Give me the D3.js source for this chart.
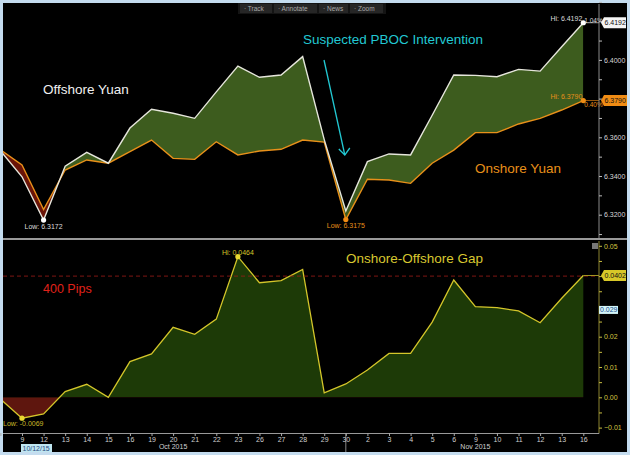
<!DOCTYPE html>
<html>
<head>
<meta charset="utf-8">
<script src="https://d3js.org/d3.v7.min.js"></script>
<style>
  body { margin: 0; background: #c4dcef; }
  text { font-family: "Liberation Sans", Arial, sans-serif; }
</style>
</head>
<body>
<div id="chart"></div>
<script>
// data
var dates = ["10/08","10/09","10/12","10/13","10/14","10/15","10/16","10/19","10/20","10/21","10/22","10/23","10/26","10/27","10/28","10/29","10/30","11/02","11/03","11/04","11/05","11/06","11/09","11/10","11/11","11/12","11/13","11/16"];
var dayLabels = ["","9","12","13","14","15","16","19","20","21","22","23","26","27","28","29","30","2","3","4","5","6","9","10","11","12","13","16"];
var offshore = [6.3531, 6.3396, 6.3172, 6.3451, 6.3522, 6.3466, 6.3648, 6.3745, 6.3724, 6.3698, 6.3835, 6.3968, 6.3910, 6.3922, 6.4017, 6.3588, 6.3219, 6.3474, 6.3514, 6.3509, 6.3714, 6.3922, 6.3920, 6.3913, 6.3951, 6.3942, 6.4068, 6.4192];
var onshore = [6.3536, 6.3457, 6.3227, 6.3431, 6.3483, 6.3466, 6.3526, 6.3586, 6.3491, 6.3486, 6.3577, 6.3509, 6.3529, 6.3538, 6.3586, 6.3575, 6.3175, 6.3383, 6.3379, 6.3362, 6.3466, 6.3534, 6.3624, 6.3624, 6.3669, 6.3698, 6.3741, 6.3790];
var gap = [-0.0006, -0.0069, -0.0055, 0.0019, 0.0043, 0.0000, 0.0118, 0.0143, 0.0231, 0.0208, 0.0258, 0.0464, 0.0378, 0.0385, 0.0422, 0.0015, 0.0044, 0.0090, 0.0145, 0.0145, 0.0248, 0.0387, 0.0299, 0.0296, 0.0285, 0.0246, 0.0327, 0.0402];
var topTicks = [6.32, 6.34, 6.36, 6.40];
var botTicks = [-0.01, 0.00, 0.01, 0.02, 0.05];
var pctLabels = ["1.04%", "0.40%"];
var pipsLevel = 0.04;
var months = [{name: "Oct 2015", from: "10/08", to: "10/30"}, {name: "Nov 2015", from: "11/02", to: "11/16"}];

var W = 630, H = 455;
var axisX = 599;
var topPanel = {y0: 4, y1: 238};
var botPanel = {y0: 241, y1: 433};

var svg = d3.select("#chart").append("svg")
    .attr("width", W).attr("height", H);

// frame + black background
svg.append("rect").attr("width", W).attr("height", H).attr("fill", "#c4dcef");
svg.append("rect").attr("x", 3).attr("y", 3).attr("width", 624).attr("height", 449).attr("fill", "#000");

var rows = dates.map(function(d, i) {
  return {date: d, off: offshore[i], on: onshore[i], gap: gap[i]};
});

var x = d3.scalePoint().domain(dates).range([0.4, 583.3]);
var yTop = d3.scaleLinear().domain([6.30, 6.43]).range([253.4, 1.85]);
var yBot = d3.scaleLinear().domain([-0.015, 0.055]).range([442.75, 230.65]);

var defs = svg.append("defs");
function clipRect(id, y0, y1) {
  defs.append("clipPath").attr("id", id).append("rect")
    .attr("x", 3).attr("y", y0).attr("width", axisX - 3).attr("height", y1 - y0);
}
clipRect("clipTop", topPanel.y0, topPanel.y1);
clipRect("clipBot", botPanel.y0, botPanel.y1);

// ---------- top panel ----------
var gTop = svg.append("g").attr("clip-path", "url(#clipTop)");

var belowOff = d3.area().x(function(d){ return x(d.date); }).y0(H).y1(function(d){ return yTop(d.off); });
var belowOn = d3.area().x(function(d){ return x(d.date); }).y0(H).y1(function(d){ return yTop(d.on); });
var aboveOn = d3.area().x(function(d){ return x(d.date); }).y0(0).y1(function(d){ return yTop(d.on); });
var aboveOff = d3.area().x(function(d){ return x(d.date); }).y0(0).y1(function(d){ return yTop(d.off); });

defs.append("clipPath").attr("id", "clipAboveOn").append("path").attr("d", aboveOn(rows));
defs.append("clipPath").attr("id", "clipAboveOff").append("path").attr("d", aboveOff(rows));

// green where offshore is higher, red where onshore is higher
gTop.append("g").attr("clip-path", "url(#clipAboveOn)")
  .append("path").attr("d", belowOff(rows)).attr("fill", "#3d5c1e");
gTop.append("g").attr("clip-path", "url(#clipAboveOff)")
  .append("path").attr("d", belowOn(rows)).attr("fill", "#6a1408");

var lineOff = d3.line().x(function(d){ return x(d.date); }).y(function(d){ return yTop(d.off); });
var lineOn = d3.line().x(function(d){ return x(d.date); }).y(function(d){ return yTop(d.on); });

gTop.append("path").attr("d", lineOn(rows)).attr("fill", "none")
  .attr("stroke", "#e8901a").attr("stroke-width", 1.4);
gTop.append("path").attr("d", lineOff(rows)).attr("fill", "none")
  .attr("stroke", "#e6e6dc").attr("stroke-width", 1.4);

// last value guides to the axis
var last = rows[rows.length - 1];
svg.append("line").attr("x1", x(last.date)).attr("x2", axisX)
  .attr("y1", yTop(last.off)).attr("y2", yTop(last.off)).attr("stroke", "#bbb").attr("stroke-width", 0.8);
svg.append("line").attr("x1", x(last.date)).attr("x2", axisX)
  .attr("y1", yTop(last.on)).attr("y2", yTop(last.on)).attr("stroke", "#c07010").attr("stroke-width", 0.8);

// hi / low markers
var offLowI = d3.minIndex(offshore), offHiI = d3.maxIndex(offshore);
var onLowI = d3.minIndex(onshore), onHiI = d3.maxIndex(onshore);

function marker(cx, cy, col) {
  svg.append("circle").attr("cx", cx).attr("cy", cy).attr("r", 2.6).attr("fill", col);
}
function small(tx, ty, str, col, anchor) {
  return svg.append("text").attr("x", tx).attr("y", ty).text(str)
    .attr("fill", col).attr("font-size", "7px").attr("text-anchor", anchor || "start");
}

marker(x(dates[offLowI]), yTop(offshore[offLowI]), "#fff");
small(x(dates[offLowI]), yTop(offshore[offLowI]) + 9, "Low: " + offshore[offLowI].toFixed(4), "#ddd", "middle");
marker(x(dates[onLowI]), yTop(onshore[onLowI]), "#f08c14");
small(x(dates[onLowI]), yTop(onshore[onLowI]) + 8, "Low: " + onshore[onLowI].toFixed(4), "#e8901a", "middle");

marker(x(dates[offHiI]), yTop(offshore[offHiI]), "#fff");
small(x(dates[offHiI]) - 1, yTop(offshore[offHiI]) - 2, "Hi: " + offshore[offHiI].toFixed(4), "#ddd", "end");
small(x(dates[offHiI]) + 1, yTop(offshore[offHiI]) + 0.5, pctLabels[0], "#ddd").attr("font-size", "6.5px");
marker(x(dates[onHiI]), yTop(onshore[onHiI]), "#f08c14");
small(x(dates[onHiI]) - 1, yTop(onshore[onHiI]) - 2, "Hi: " + onshore[onHiI].toFixed(4), "#e8901a", "end");
small(x(dates[onHiI]) + 1, yTop(onshore[onHiI]) + 6, pctLabels[1], "#e8901a").attr("font-size", "6.5px");

// annotations
svg.append("text").attr("x", 43).attr("y", 94).text("Offshore Yuan")
  .attr("fill", "#f0f0f0").attr("font-size", "13.5px");
svg.append("text").attr("x", 475).attr("y", 173).text("Onshore Yuan")
  .attr("fill", "#e8901a").attr("font-size", "13.5px");
svg.append("text").attr("x", 303).attr("y", 44).text("Suspected PBOC Intervention")
  .attr("fill", "#22c8d2").attr("font-size", "13.5px");

var arrowTip = [x("10/30") - 1, 155];
svg.append("line").attr("x1", 324).attr("y1", 60).attr("x2", arrowTip[0]).attr("y2", arrowTip[1])
  .attr("stroke", "#22c8d2").attr("stroke-width", 1.3);
svg.append("path")
  .attr("d", "M" + (arrowTip[0] - 6) + "," + (arrowTip[1] - 6) + "L" + arrowTip[0] + "," + arrowTip[1] + "L" + (arrowTip[0] + 5) + "," + (arrowTip[1] - 7))
  .attr("fill", "none").attr("stroke", "#22c8d2").attr("stroke-width", 1.3);

// right axis, top
svg.append("line").attr("x1", axisX).attr("x2", axisX).attr("y1", topPanel.y0).attr("y2", topPanel.y1)
  .attr("stroke", "#8a8a8a");
var topAxis = svg.append("g").attr("transform", "translate(" + axisX + ",0)")
  .call(d3.axisRight(yTop).tickValues(d3.range(6.31, 6.43, 0.01)).tickSize(3).tickFormat(function(d){
    return topTicks.some(function(t){ return Math.abs(t - d) < 1e-6; }) ? d3.format(".4f")(d) : "";
  }));
topAxis.select(".domain").remove();
topAxis.selectAll("line").attr("stroke", "#bbb");
topAxis.selectAll("text").attr("fill", "#d8d8d8").attr("font-size", "7px").attr("x", 5);

function tag(yv, str, bg, fg, w) {
  var h = 11, x0 = axisX + 2;
  svg.append("path")
    .attr("d", "M" + x0 + "," + yv + "L" + (x0 + 3) + "," + (yv - h / 2) + "H" + (x0 + w) + "V" + (yv + h / 2) + "H" + (x0 + 3) + "Z")
    .attr("fill", bg);
  svg.append("text").attr("x", x0 + 3.5).attr("y", yv + 2.5).text(str)
    .attr("fill", fg).attr("font-size", "7px");
}
tag(yTop(last.off), last.off.toFixed(4), "#f4f4f4", "#111", 25);
tag(yTop(last.on), last.on.toFixed(4), "#f08c14", "#111", 26);

// toolbar
var tools = [{t: "Track", x: 240, w: 32}, {t: "Annotate", x: 274, w: 43}, {t: "News", x: 319, w: 29}, {t: "Zoom", x: 350, w: 33}];
svg.append("rect").attr("x", 238).attr("y", 3).attr("width", 148).attr("height", 11).attr("fill", "#141414");
tools.forEach(function(d) {
  svg.append("rect").attr("x", d.x).attr("y", 4).attr("width", d.w).attr("height", 9).attr("fill", "#262626");
  svg.append("text").attr("x", d.x + 4).attr("y", 11).text("\u00b7 " + d.t)
    .attr("fill", "#aaa").attr("font-size", "6.5px");
});

// separator
svg.append("rect").attr("x", 3).attr("y", 238).attr("width", 624).attr("height", 2).attr("fill", "#9a9a9a");

// ---------- bottom panel ----------
var gBot = svg.append("g").attr("clip-path", "url(#clipBot)");
clipRect("clipPos", 0, yBot(0));
clipRect("clipNeg", yBot(0), H);

var gapArea = d3.area().x(function(d){ return x(d.date); }).y0(yBot(0)).y1(function(d){ return yBot(d.gap); });
gBot.append("g").attr("clip-path", "url(#clipPos)")
  .append("path").attr("d", gapArea(rows)).attr("fill", "#1d3a07");
gBot.append("g").attr("clip-path", "url(#clipNeg)")
  .append("path").attr("d", gapArea(rows)).attr("fill", "#5e160e");

// 400 pips line
svg.append("line").attr("x1", 3).attr("x2", axisX).attr("y1", yBot(pipsLevel)).attr("y2", yBot(pipsLevel))
  .attr("stroke", "#a01c18").attr("stroke-dasharray", "4,3").attr("stroke-width", 0.8);
svg.append("line").attr("x1", x(last.date)).attr("x2", axisX).attr("y1", yBot(last.gap)).attr("y2", yBot(last.gap))
  .attr("stroke", "#c8bc28").attr("stroke-width", 0.8);

var gapLine = d3.line().x(function(d){ return x(d.date); }).y(function(d){ return yBot(d.gap); });
gBot.append("path").attr("d", gapLine(rows)).attr("fill", "none")
  .attr("stroke", "#d4c62a").attr("stroke-width", 1.3);

var gapHiI = d3.maxIndex(gap), gapLowI = d3.minIndex(gap);
marker(x(dates[gapHiI]), yBot(gap[gapHiI]), "#e8d830");
small(x(dates[gapHiI]), yBot(gap[gapHiI]) - 2, "Hi: " + gap[gapHiI].toFixed(4), "#d4c62a", "middle");
marker(x(dates[gapLowI]), yBot(gap[gapLowI]), "#e8d830");
small(3, yBot(gap[gapLowI]) + 8, "Low:  " + gap[gapLowI].toFixed(4), "#c8b828");

svg.append("text").attr("x", 346).attr("y", 263).text("Onshore-Offshore Gap")
  .attr("fill", "#d8c830").attr("font-size", "13.5px");
svg.append("text").attr("x", 43).attr("y", 293).text("400 Pips")
  .attr("fill", "#e0221a").attr("font-size", "12.5px");

// right axis, bottom
svg.append("line").attr("x1", axisX).attr("x2", axisX).attr("y1", botPanel.y0).attr("y2", botPanel.y1)
  .attr("stroke", "#8c8430");
var botAxis = svg.append("g").attr("transform", "translate(" + axisX + ",0)")
  .call(d3.axisRight(yBot).tickValues(d3.range(-0.01, 0.0501, 0.005)).tickSize(3).tickFormat(function(d){
    return botTicks.some(function(t){ return Math.abs(t - d) < 1e-6; }) ? d3.format(".2f")(d) : "";
  }));
botAxis.select(".domain").remove();
botAxis.selectAll("line").attr("stroke", "#c8bc40");
botAxis.selectAll("text").attr("fill", "#d4c640").attr("font-size", "7px").attr("x", 5);

tag(yBot(last.gap), last.gap.toFixed(4), "#d8c828", "#111", 25);
svg.append("rect").attr("x", axisX).attr("y", yBot(0.029) - 3.5).attr("width", 19).attr("height", 8).attr("fill", "#d2f4f8");
svg.append("text").attr("x", axisX + 1).attr("y", yBot(0.029) + 3).text("0.029")
  .attr("fill", "#1a4a8a").attr("font-size", "7px");

// small icon top right of bottom panel
svg.append("rect").attr("x", 592).attr("y", 243).attr("width", 6).attr("height", 6).attr("fill", "#777");

// ---------- x axis ----------
var xAxis = svg.append("g").attr("transform", "translate(0," + botPanel.y1 + ")")
  .call(d3.axisBottom(x).tickSize(3).tickFormat(function(d, i){ return dayLabels[i]; }));
xAxis.select(".domain").attr("d", "M3,0.5H" + axisX + "V0").attr("stroke", "#999");
xAxis.selectAll("line").attr("stroke", "#aaa");
xAxis.selectAll("text").attr("fill", "#d0d0d0").attr("font-size", "7px").attr("dy", "0.45em");

months.forEach(function(m) {
  svg.append("text").attr("x", (x(m.from) + x(m.to)) / 2).attr("y", 449).text(m.name)
    .attr("fill", "#d0d0d0").attr("font-size", "7px").attr("text-anchor", "middle");
});
svg.append("line").attr("x1", x("10/30")).attr("x2", x("10/30")).attr("y1", botPanel.y1).attr("y2", 452)
  .attr("stroke", "#aaa").attr("stroke-width", 0.8);

svg.append("rect").attr("x", 21).attr("y", 444).attr("width", 31).attr("height", 8).attr("fill", "#bfe6f0");
svg.append("text").attr("x", 22.5).attr("y", 450.5).text("10/12/15")
  .attr("fill", "#2a4a80").attr("font-size", "7px");
</script>
</body>
</html>
